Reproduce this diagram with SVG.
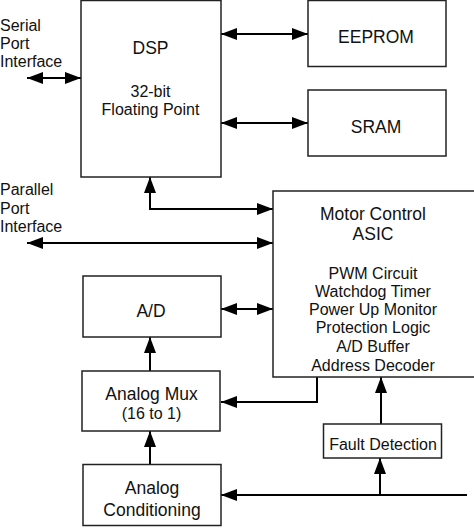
<svg xmlns="http://www.w3.org/2000/svg" width="474" height="528" viewBox="0 0 474 528">
<defs>
<marker id="ah" markerUnits="userSpaceOnUse" markerWidth="16" markerHeight="12" refX="16" refY="6" orient="auto-start-reverse">
<path d="M0,0 L16,6 L0,12 z" fill="#000"/>
</marker>
<style>
.box{fill:#fff;stroke:#222;stroke-width:1.5}
text{font-family:"Liberation Sans",Arial,sans-serif;fill:#111;text-anchor:middle}
.l{text-anchor:start;font-size:16px}
.s{font-size:16px}
.b{font-size:17.5px}
.c{fill:none;stroke:#000;stroke-width:2}
</style>
</defs>
<rect width="474" height="528" fill="#fff"/>
<g id="connectors">
<line class="c" x1="27" y1="78" x2="81" y2="78" marker-start="url(#ah)" marker-end="url(#ah)"/>
<line class="c" x1="221" y1="34" x2="308" y2="34" marker-start="url(#ah)" marker-end="url(#ah)"/>
<line class="c" x1="221" y1="123" x2="308" y2="123" marker-start="url(#ah)" marker-end="url(#ah)"/>
<path class="c" d="M150,177 V209 H273" marker-start="url(#ah)" marker-end="url(#ah)"/>
<line class="c" x1="27" y1="243" x2="273" y2="243" marker-start="url(#ah)" marker-end="url(#ah)"/>
<line class="c" x1="221" y1="309" x2="273" y2="309" marker-start="url(#ah)" marker-end="url(#ah)"/>
<line class="c" x1="150" y1="371" x2="150" y2="337" marker-end="url(#ah)"/>
<path class="c" d="M317,377 V402 H221" marker-end="url(#ah)"/>
<line class="c" x1="150" y1="464" x2="150" y2="431" marker-end="url(#ah)"/>
<line class="c" x1="381" y1="424" x2="381" y2="377" marker-end="url(#ah)"/>
<line class="c" x1="467" y1="495" x2="221" y2="495" marker-end="url(#ah)"/>
<line class="c" x1="380" y1="495" x2="380" y2="458" marker-end="url(#ah)"/>
</g>
<g id="serial-label">
<text class="l" x="0" y="31">Serial</text>
<text class="l" x="0" y="49">Port</text>
<text class="l" x="0" y="67">Interface</text>
</g>
<g id="parallel-label">
<text class="l" x="0" y="195">Parallel</text>
<text class="l" x="0" y="213.5">Port</text>
<text class="l" x="0" y="232">Interface</text>
</g>
<g id="dsp">
<rect class="box" x="81" y="0.5" width="140" height="176.5"/>
<text class="b" x="150.5" y="54">DSP</text>
<text class="s" x="150.5" y="97">32-bit</text>
<text class="s" x="150.5" y="114.5">Floating Point</text>
</g>
<g id="eeprom">
<rect class="box" x="308" y="0.5" width="138" height="66"/>
<text class="b" x="376" y="43">EEPROM</text>
</g>
<g id="sram">
<rect class="box" x="308" y="90" width="138" height="66"/>
<text class="b" x="376" y="133">SRAM</text>
</g>
<g id="motor-control">
<rect class="box" x="273" y="191" width="210" height="186"/>
<text class="b" x="373" y="219.5">Motor Control</text>
<text class="b" x="373" y="240">ASIC</text>
<text class="s" x="373" y="278.5">PWM Circuit</text>
<text class="s" x="373" y="296.5">Watchdog Timer</text>
<text class="s" x="373" y="314.5">Power Up Monitor</text>
<text class="s" x="373" y="332.5">Protection Logic</text>
<text class="s" x="373" y="351.5">A/D Buffer</text>
<text class="s" x="373" y="371">Address Decoder</text>
</g>
<g id="ad">
<rect class="box" x="83" y="276" width="138" height="61"/>
<text class="b" x="151" y="316.5">A/D</text>
</g>
<g id="analog-mux">
<rect class="box" x="82" y="371" width="138" height="60"/>
<text class="b" x="151.5" y="400">Analog Mux</text>
<text class="s" x="151.5" y="419">(16 to 1)</text>
</g>
<g id="fault-detection">
<rect class="box" x="323.5" y="424" width="118" height="34"/>
<text class="s" x="383" y="450">Fault Detection</text>
</g>
<g id="analog-conditioning">
<rect class="box" x="83" y="464.5" width="138" height="61"/>
<text class="b" x="152" y="493.5">Analog</text>
<text class="b" x="152" y="515.5">Conditioning</text>
</g>
</svg>
